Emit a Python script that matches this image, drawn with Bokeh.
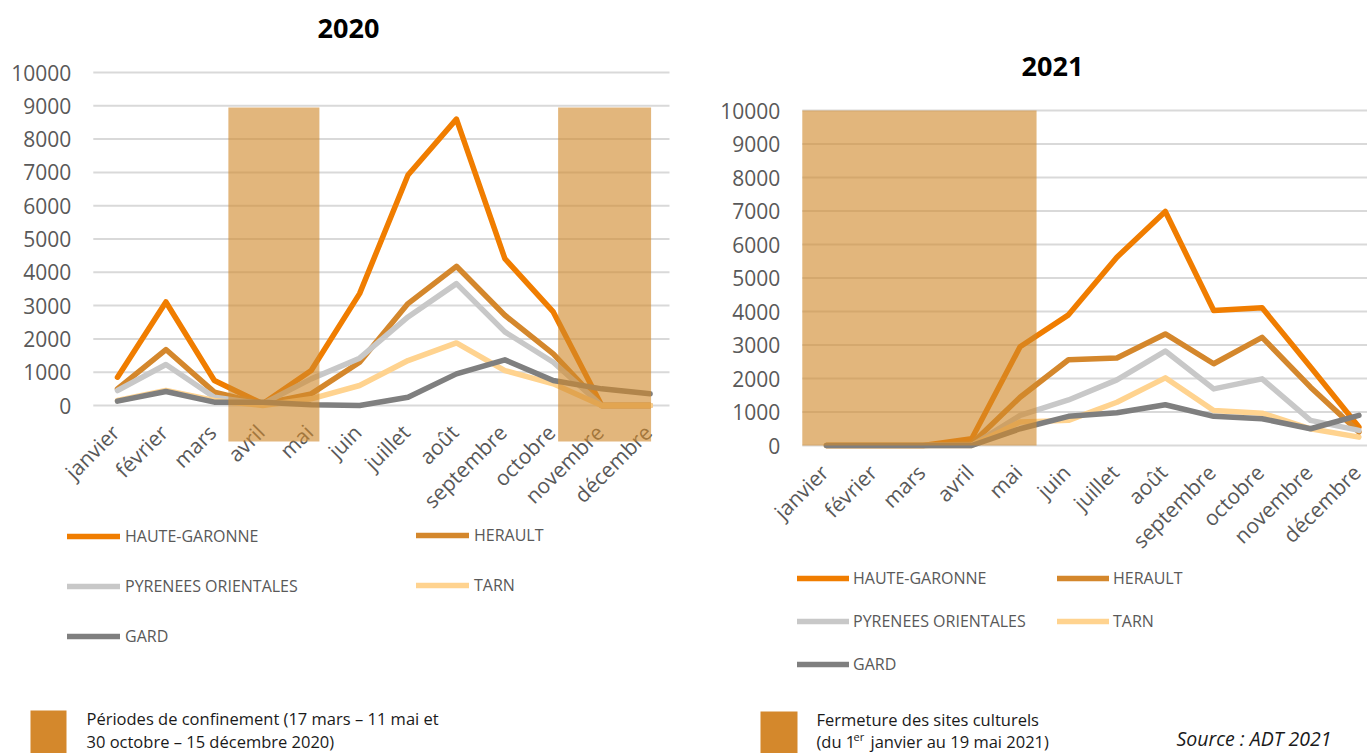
import math
from bokeh.plotting import figure
from bokeh.models import Range1d, Legend, LegendItem, Label, BoxAnnotation
from bokeh.layouts import row
from bokeh.embed import file_html
from bokeh.resources import INLINE
from bokeh.core.properties import value

# ---------------- data ----------------
months = ["janvier", "février", "mars", "avril", "mai", "juin", "juillet",
          "août", "septembre", "octobre", "novembre", "décembre"]
series_names = ["HAUTE-GARONNE", "HERAULT", "PYRENEES ORIENTALES", "TARN", "GARD"]
series_colors = ["#F07D00", "#D4872C", "#C8C8C8", "#FFD38F", "#7F7F7F"]
y_ticks = [0, 1000, 2000, 3000, 4000, 5000, 6000, 7000, 8000, 9000, 10000]
y_tick_labels = ["0", "1000", "2000", "3000", "4000", "5000", "6000", "7000",
                 "8000", "9000", "10000"]

hg_2020 = [850, 3110, 750, 50, 1050, 3360, 6920, 8600, 4410, 2810, 0, 0]
her_2020 = [500, 1680, 400, 50, 350, 1300, 3060, 4180, 2710, 1550, 0, 0]
pyr_2020 = [450, 1230, 250, 50, 800, 1420, 2660, 3660, 2210, 1300, 0, 0]
tarn_2020 = [150, 450, 150, 0, 200, 600, 1350, 1880, 1050, 650, 0, 0]
gard_2020 = [130, 420, 100, 100, 20, 0, 250, 950, 1370, 750, 500, 350]

hg_2021 = [0, 0, 0, 200, 2950, 3900, 5620, 6985, 4030, 4110, 2340, 550]
her_2021 = [0, 0, 0, 50, 1440, 2560, 2610, 3330, 2440, 3230, 1740, 400]
pyr_2021 = [0, 0, 0, 0, 900, 1360, 1960, 2820, 1690, 1990, 750, 450]
tarn_2021 = [0, 0, 0, 0, 700, 750, 1290, 2020, 1045, 965, 500, 250]
gard_2021 = [0, 0, 0, 0, 500, 870, 975, 1215, 870, 800, 500, 900]

# shaded periods (month-index units)
conf_2020_start = [2.29, 9.10]
conf_2020_end = [4.17, 11.02]
conf_2020_bottom = [-1080, -1080]
conf_2020_top = [8950, 8950]

ferm_2021_start = [-0.5]
ferm_2021_end = [4.34]
ferm_2021_bottom = [0]
ferm_2021_top = [10000]

FONT = "Open Sans"
GREY_TXT = "#595959"
SHADE = "#D0892C"
SWATCH = "#D4882C"
PAGE_H = 753


def make_chart(title, series, periods, fig_w, x0_px, dx_px, y0_px, y10k_px,
               grid_x1, title_pos, leg1, leg2, row_spacing, glyph_w, standoff,
               swatch_box):
    # pixel layout -> data ranges (frame covers the whole figure)
    xs = -x0_px / dx_px
    xe = xs + fig_w / dx_px
    ppu = (y0_px - y10k_px) / 10000.0
    ye = 10000 + y10k_px / ppu
    ys = -(PAGE_H - y0_px) / ppu
    p = figure(width=fig_w, height=PAGE_H, x_range=Range1d(xs, xe),
               y_range=Range1d(ys, ye), min_border=0,
               x_axis_location=None, y_axis_location=None, title=None,
               output_backend="svg", toolbar_location=None, tools="")
    p.outline_line_color = None
    p.grid.visible = False

    n = len(y_ticks)
    p.segment(x0=[-0.5] * n, x1=[grid_x1] * n, y0=y_ticks, y1=y_ticks,
              line_color="#D9D9D9", line_width=2)
    p.text(x=[-0.5] * n, y=y_ticks, text=y_tick_labels, x_offset=-22,
           text_align="right", text_baseline="middle",
           text_font=value(FONT), text_font_size="21px", text_color=GREY_TXT)

    idx = list(range(len(months)))
    p.text(x=idx, y=[0] * len(months), text=months, angle=math.pi / 4,
           text_align="right", text_baseline="top", x_offset=-12, y_offset=13,
           text_font=value(FONT), text_font_size="21px", text_color=GREY_TXT)

    renderers = []
    for name, vals, col in zip(series_names, series, series_colors):
        r = p.line(x=idx, y=vals, line_color=col, line_width=5.5,
                   line_join="round", line_cap="round")
        renderers.append(r)

    p.quad(left=periods[0], right=periods[1], bottom=periods[2], top=periods[3],
           fill_color=SHADE, fill_alpha=0.62, line_color=None)

    p.add_layout(Label(x=title_pos[0], y=title_pos[1], x_units="screen",
                       y_units="screen", text=title, text_font=FONT,
                       text_font_size="27px", text_font_style="bold",
                       text_color="#000000", text_align="center",
                       text_baseline="middle"))

    def mk_legend(items, loc):
        lg = Legend(items=items, location=loc, background_fill_alpha=0,
                    border_line_alpha=0, padding=0, margin=0,
                    glyph_width=glyph_w, glyph_height=20, label_height=20,
                    spacing=row_spacing, label_standoff=standoff,
                    label_text_font=FONT, label_text_font_size="16px",
                    label_text_color=GREY_TXT)
        p.add_layout(lg)

    mk_legend([LegendItem(label=series_names[i], renderers=[renderers[i]])
               for i in (0, 2, 4)], leg1)
    mk_legend([LegendItem(label=series_names[i], renderers=[renderers[i]])
               for i in (1, 3)], leg2)

    l, r_, b, t = swatch_box
    p.add_layout(BoxAnnotation(left=l, right=r_, bottom=b, top=t,
                               left_units="screen", right_units="screen",
                               bottom_units="screen", top_units="screen",
                               fill_color=SWATCH, fill_alpha=1.0,
                               line_color=None))
    return p


def note(p, x, y, text, size="16.5px", style="normal", color="#1A1A1A"):
    p.add_layout(Label(x=x, y=y, x_units="screen", y_units="screen", text=text,
                       text_font=FONT, text_font_size=size,
                       text_font_style=style, text_color=color,
                       text_align="left", text_baseline="middle"))


left = make_chart("2020",
                  [hg_2020, her_2020, pyr_2020, tarn_2020, gard_2020],
                  [conf_2020_start, conf_2020_end, conf_2020_bottom, conf_2020_top],
                  fig_w=683, x0_px=117, dx_px=48.42, y0_px=405, y10k_px=72,
                  grid_x1=11.4, title_pos=(348, 725), leg1=(67, 106),
                  leg2=(416, 157), row_spacing=28, glyph_w=53,
                  standoff=5, swatch_box=(30, 66, 0, 43))
note(left, 86, 35, "Périodes de confinement (17 mars – 11 mai et")
note(left, 86, 12, "30 octobre – 15 décembre 2020)")

right = make_chart("2021",
                   [hg_2021, her_2021, pyr_2021, tarn_2021, gard_2021],
                   [ferm_2021_start, ferm_2021_end, ferm_2021_bottom, ferm_2021_top],
                   fig_w=684, x0_px=143, dx_px=48.4, y0_px=445, y10k_px=110,
                   grid_x1=11.6, title_pos=(369, 687), leg1=(114, 78),
                   leg2=(374, 121), row_spacing=21, glyph_w=52,
                   standoff=4, swatch_box=(77, 114, 0, 42))
note(right, 133, 34, "Fermeture des sites culturels")
note(right, 133, 12, "(du 1")
note(right, 170, 17, "er", size="11px")
note(right, 187, 12, "janvier au 19 mai 2021)")
note(right, 493, 15, "Source : ADT 2021", size="19.5px", style="italic")

layout = row(left, right)
open("out.html", "w").write(file_html(layout, INLINE))
